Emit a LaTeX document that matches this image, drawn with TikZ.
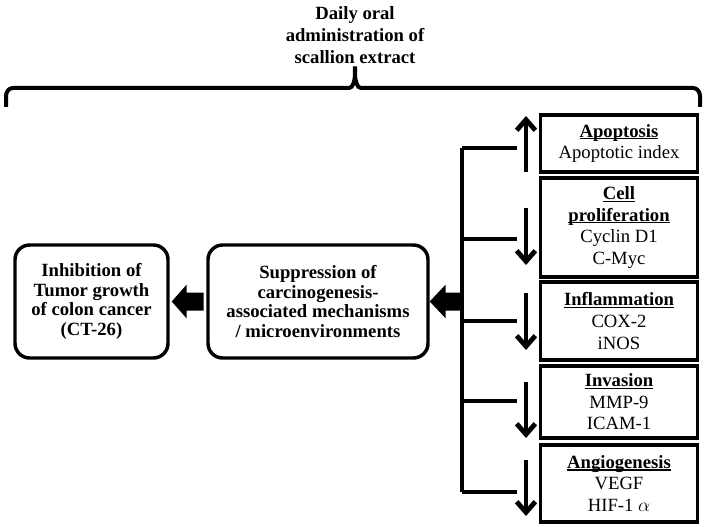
\documentclass[tikz,border=0pt]{standalone}
\usepackage{fontspec}
\setmainfont{Liberation Serif}
\usetikzlibrary{arrows.meta,positioning,calc}

% bold heading, underlined just below the baseline
\newcommand{\markhead}[1]{\setbox0\hbox{\bfseries #1}\rlap{\rule[-1.7pt]{\wd0}{0.9pt}}\box0}

\tikzset{
  outcome/.style={draw, line width=2.6pt, rounded corners=11pt, align=center, inner sep=0pt,
    minimum height=84.75pt, font=\fontsize{14}{14.8}\selectfont\bfseries},
  marker/.style={draw, line width=2.3pt, align=center, inner sep=0pt, minimum width=118pt,
    font=\fontsize{14}{16.2}\selectfont},
  headline/.style={align=center, inner sep=0pt, font=\fontsize{14}{16.5}\selectfont\bfseries},
  trend/.style={line width=3pt, -{Straight Barb[length=8pt,width=14pt,line width=3.6pt]}},
  branch/.style={line width=2.3pt}
}

\begin{document}
\begin{tikzpicture}[x=0.75pt,y=0.75pt,yscale=-1,xscale=1]
\useasboundingbox (0,0) rectangle (709,527);

% Text Node
\node[headline] (dose) at (355,35) {Daily oral\\administration of\\scallion extract};
%Shape: Brace
\draw[line width=3pt] (6,107) -- (6,96) to[out=-90,in=180] (13,88) -- (349,88) to[out=0,in=-90] (355,68)
  to[out=-90,in=180] (361,88) -- (693,88) to[out=0,in=-90] (700,96) -- (700,107);

%Rounded boxes
\node[outcome, minimum width=114.75pt] (inhib) at (91.5,301.5) {Inhibition of\\Tumor growth\\of colon cancer\\(CT-26)};
\node[outcome, minimum width=165pt] (supp) at (318,301.5) {Suppression of\\carcinogenesis-\\associated mechanisms\\/ microenvironments};

%Marker boxes
\node[marker, minimum height=42.75pt] (apop) at (619,143.5) {\markhead{Apoptosis}\\Apoptotic index};
\node[marker, minimum height=74.25pt] (prolif) at (619,227.5) {\markhead{Cell}\\\markhead{proliferation}\\Cyclin D1\\C-Myc};
\node[marker, minimum height=58.5pt] (inflam) at (619,321) {\markhead{Inflammation}\\COX-2\\iNOS};
\node[marker, minimum height=54pt] (invas) at (619,402) {\markhead{Invasion}\\MMP-9\\ICAM-1};
\node[marker, minimum height=57.75pt] (angio) at (619,483.5) {\markhead{Angiogenesis}\\VEGF\\HIF-1 $\alpha$};

%Spine and branches
\coordinate (top) at (462,148);
\coordinate (bot) at (462,492);
\draw[branch] (top) -- (bot);
\draw[branch] (top) -- (517,148);
\draw[branch] (462,239) -- (517,239);
\draw[branch] (462,321) -- (517,321);
\draw[branch] (462,401) -- (517,401);
\draw[branch] (bot) -- (517,492);

%Up / down arrows
\draw[trend] (526,172) -- (526,116);
\draw[trend] (526,208) -- (526,265);
\draw[trend] (526,293) -- (526,350);
\draw[trend] (526,382) -- (526,438);
\draw[trend] (526,460) -- (526,516);

%Block arrows
\fill (supp.east) -- ++(16,-17) -- ++(0,8) -- ++(18,0) -- ++(0,18) -- ++(-18,0) -- ++(0,8) -- cycle;
\fill ($(inhib.east)+(2,0)$) -- ++(15,-17) -- ++(0,8) -- ++(17,0) -- ++(0,18) -- ++(-17,0) -- ++(0,8) -- cycle;

\end{tikzpicture}
\end{document}
